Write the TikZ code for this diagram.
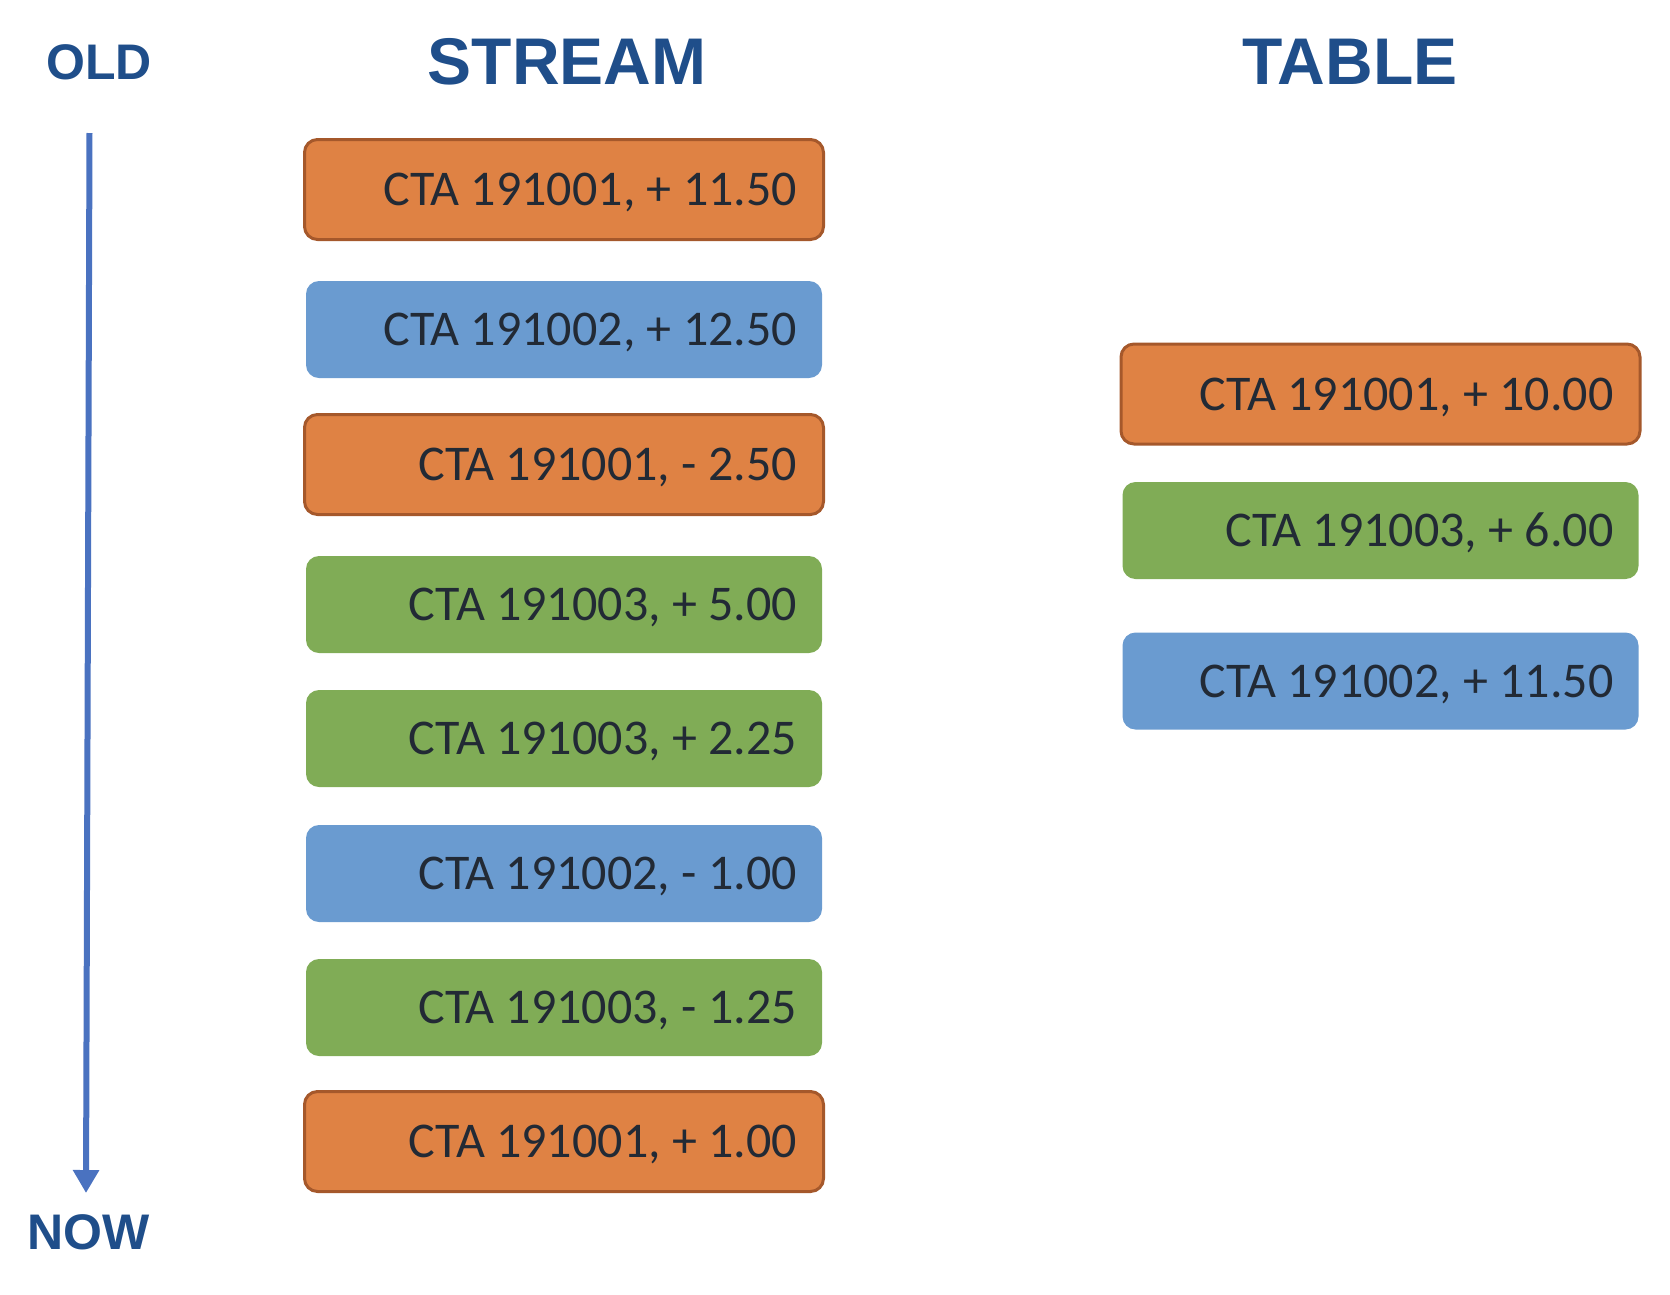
\documentclass[tikz,border=0pt]{standalone}
\usepackage{fontspec}
\setmainfont{Carlito}
\newfontfamily\headfont{Liberation Sans}
\usepackage{tikz}
\usetikzlibrary{arrows.meta}

\definecolor{headblue}{HTML}{1F4E8A}
\definecolor{txtdark}{HTML}{222A35}
\definecolor{evorange}{HTML}{DF8244}
\definecolor{evorangeline}{HTML}{A5582B}
\definecolor{evblue}{HTML}{6A9BD0}
\definecolor{evgreen}{HTML}{80AC56}
\definecolor{timeblue}{HTML}{4A72C0}

\tikzset{
    event/.style={rounded corners=13pt, text=txtdark, font=\fontsize{50}{60}\selectfont,
        text width=466pt, align=flush right, inner xsep=25pt, inner ysep=0pt,
        minimum height=97pt, text height=32pt, text depth=0pt},
    acct1/.style={event, fill=evorange, draw=evorangeline, line width=3pt,
        inner xsep=26.5pt, minimum height=100pt},
    acct2/.style={event, fill=evblue},
    acct3/.style={event, fill=evgreen},
    head/.style={text=headblue, font=\headfont\bfseries\fontsize{66}{70}\selectfont},
    timelabel/.style={text=headblue, font=\headfont\bfseries\fontsize{50}{56}\selectfont}
}

\begin{document}
\begin{tikzpicture}[x=1pt, y=-1pt]
    \useasboundingbox (0, 0) rectangle (1670, 1294);

    % Time axis
    \node[timelabel] (old) at (99, 62) {OLD};
    \node[timelabel] (now) at (88.5, 1232) {NOW};
    \coordinate (tstart) at (89.5, 133);
    \coordinate (tend) at (86, 1193);
    \draw[timeblue, line width=6pt, -{Triangle[length=23pt, width=25pt]}] (tstart) -- (tend);

    % Stream
    \node[head] (stream) at (567, 62) {STREAM};
    \node[acct1] (s1) at (564, 189.5) {CTA 191001, + 11.50};
    \node[acct2] (s2) at (564, 329.5) {CTA 191002, + 12.50};
    \node[acct1] (s3) at (564, 464.5) {CTA 191001, - 2.50};
    \node[acct3] (s4) at (564, 604.5) {CTA 191003, + 5.00};
    \node[acct3] (s5) at (564, 738.5) {CTA 191003, + 2.25};
    \node[acct2] (s6) at (564, 873.5) {CTA 191002, - 1.00};
    \node[acct3] (s7) at (564, 1007.5) {CTA 191003, - 1.25};
    \node[acct1] (s8) at (564, 1141.5) {CTA 191001, + 1.00};

    % Table
    \node[head] (table) at (1350, 62) {TABLE};
    \node[acct1] (t1) at (1380.5, 394) {CTA 191001, + 10.00};
    \node[acct3] (t2) at (1380.5, 530.5) {CTA 191003, + 6.00};
    \node[acct2] (t3) at (1380.5, 681) {CTA 191002, + 11.50};
\end{tikzpicture}
\end{document}
